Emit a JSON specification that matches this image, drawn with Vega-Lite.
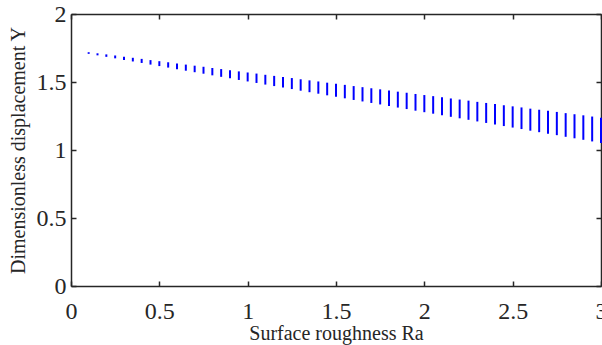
{
  "$schema": "https://vega.github.io/schema/vega-lite/v6.json",
  "width": 530,
  "height": 272,
  "autosize": {"type": "none"},
  "padding": {"left": 71, "top": 14, "right": 1, "bottom": 59},
  "background": "white",
  "config": {
    "view": {"stroke": null},
    "font": "Liberation Serif",
    "axis": {
      "domainColor": "#262626",
      "domainWidth": 1.5,
      "tickColor": "#262626",
      "tickWidth": 1.5,
      "tickSize": -5,
      "labelColor": "#262626",
      "labelFont": "Liberation Serif",
      "labelFontSize": 24,
      "titleFont": "Liberation Serif",
      "titleFontSize": 20,
      "titleFontWeight": "normal",
      "titleColor": "#262626",
      "grid": false
    }
  },
  "data": {
    "values": [
      {"Ra": 0.10, "Ytop": 1.719, "Ybot": 1.707},
      {"Ra": 0.15, "Ytop": 1.711, "Ybot": 1.696},
      {"Ra": 0.20, "Ytop": 1.703, "Ybot": 1.685},
      {"Ra": 0.25, "Ytop": 1.695, "Ybot": 1.674},
      {"Ra": 0.30, "Ytop": 1.686, "Ybot": 1.662},
      {"Ra": 0.35, "Ytop": 1.678, "Ybot": 1.651},
      {"Ra": 0.40, "Ytop": 1.670, "Ybot": 1.640},
      {"Ra": 0.45, "Ytop": 1.661, "Ybot": 1.628},
      {"Ra": 0.50, "Ytop": 1.653, "Ybot": 1.617},
      {"Ra": 0.55, "Ytop": 1.645, "Ybot": 1.606},
      {"Ra": 0.60, "Ytop": 1.636, "Ybot": 1.594},
      {"Ra": 0.65, "Ytop": 1.628, "Ybot": 1.583},
      {"Ra": 0.70, "Ytop": 1.620, "Ybot": 1.572},
      {"Ra": 0.75, "Ytop": 1.612, "Ybot": 1.561},
      {"Ra": 0.80, "Ytop": 1.603, "Ybot": 1.549},
      {"Ra": 0.85, "Ytop": 1.595, "Ybot": 1.538},
      {"Ra": 0.90, "Ytop": 1.587, "Ybot": 1.527},
      {"Ra": 0.95, "Ytop": 1.578, "Ybot": 1.515},
      {"Ra": 1.00, "Ytop": 1.570, "Ybot": 1.504},
      {"Ra": 1.05, "Ytop": 1.562, "Ybot": 1.493},
      {"Ra": 1.10, "Ytop": 1.553, "Ybot": 1.481},
      {"Ra": 1.15, "Ytop": 1.545, "Ybot": 1.470},
      {"Ra": 1.20, "Ytop": 1.537, "Ybot": 1.459},
      {"Ra": 1.25, "Ytop": 1.529, "Ybot": 1.448},
      {"Ra": 1.30, "Ytop": 1.520, "Ybot": 1.436},
      {"Ra": 1.35, "Ytop": 1.512, "Ybot": 1.425},
      {"Ra": 1.40, "Ytop": 1.504, "Ybot": 1.414},
      {"Ra": 1.45, "Ytop": 1.495, "Ybot": 1.402},
      {"Ra": 1.50, "Ytop": 1.487, "Ybot": 1.391},
      {"Ra": 1.55, "Ytop": 1.479, "Ybot": 1.380},
      {"Ra": 1.60, "Ytop": 1.470, "Ybot": 1.368},
      {"Ra": 1.65, "Ytop": 1.462, "Ybot": 1.357},
      {"Ra": 1.70, "Ytop": 1.454, "Ybot": 1.346},
      {"Ra": 1.75, "Ytop": 1.446, "Ybot": 1.335},
      {"Ra": 1.80, "Ytop": 1.437, "Ybot": 1.323},
      {"Ra": 1.85, "Ytop": 1.429, "Ybot": 1.312},
      {"Ra": 1.90, "Ytop": 1.421, "Ybot": 1.301},
      {"Ra": 1.95, "Ytop": 1.412, "Ybot": 1.289},
      {"Ra": 2.00, "Ytop": 1.404, "Ybot": 1.278},
      {"Ra": 2.05, "Ytop": 1.396, "Ybot": 1.267},
      {"Ra": 2.10, "Ytop": 1.387, "Ybot": 1.255},
      {"Ra": 2.15, "Ytop": 1.379, "Ybot": 1.244},
      {"Ra": 2.20, "Ytop": 1.371, "Ybot": 1.233},
      {"Ra": 2.25, "Ytop": 1.363, "Ybot": 1.222},
      {"Ra": 2.30, "Ytop": 1.354, "Ybot": 1.210},
      {"Ra": 2.35, "Ytop": 1.346, "Ybot": 1.199},
      {"Ra": 2.40, "Ytop": 1.338, "Ybot": 1.188},
      {"Ra": 2.45, "Ytop": 1.329, "Ybot": 1.176},
      {"Ra": 2.50, "Ytop": 1.321, "Ybot": 1.165},
      {"Ra": 2.55, "Ytop": 1.313, "Ybot": 1.154},
      {"Ra": 2.60, "Ytop": 1.304, "Ybot": 1.142},
      {"Ra": 2.65, "Ytop": 1.296, "Ybot": 1.131},
      {"Ra": 2.70, "Ytop": 1.288, "Ybot": 1.120},
      {"Ra": 2.75, "Ytop": 1.280, "Ybot": 1.109},
      {"Ra": 2.80, "Ytop": 1.271, "Ybot": 1.097},
      {"Ra": 2.85, "Ytop": 1.263, "Ybot": 1.086},
      {"Ra": 2.90, "Ytop": 1.255, "Ybot": 1.075},
      {"Ra": 2.95, "Ytop": 1.246, "Ybot": 1.063},
      {"Ra": 3.00, "Ytop": 1.238, "Ybot": 1.052}
    ]
  },
  "layer": [
    {
      "mark": {"type": "rule", "color": "#0000ff", "strokeWidth": 2, "clip": false},
      "encoding": {
        "x": {
          "field": "Ra", "type": "quantitative",
          "scale": {"domain": [0, 3], "nice": false, "zero": false},
          "axis": {"orient": "bottom", "values": [0, 0.5, 1, 1.5, 2, 2.5, 3], "format": "~g", "labelPadding": 18, "title": "Surface roughness Ra", "titlePadding": 0, "labelFlush": false, "labelOverlap": false}
        },
        "y": {
          "field": "Ytop", "type": "quantitative",
          "scale": {"domain": [0, 2], "nice": false},
          "axis": {"orient": "left", "values": [0, 0.5, 1, 1.5, 2], "format": "~g", "labelPadding": 10, "title": "Dimensionless displacement Y", "titlePadding": 8, "labelFlush": false, "labelOverlap": false}
        },
        "y2": {"field": "Ybot"}
      }
    },
    {
      "mark": {"type": "rule", "opacity": 0},
      "encoding": {
        "x": {
          "field": "Ra", "type": "quantitative",
          "scale": {"domain": [0, 3], "nice": false, "zero": false},
          "axis": {"orient": "top", "values": [0, 0.5, 1, 1.5, 2, 2.5, 3], "labels": false, "title": null}
        },
        "y": {
          "field": "Ytop", "type": "quantitative",
          "scale": {"domain": [0, 2], "nice": false},
          "axis": {"orient": "right", "values": [0, 0.5, 1, 1.5, 2], "labels": false, "title": null}
        },
        "y2": {"field": "Ybot"}
      }
    }
  ],
  "resolve": {"axis": {"x": "independent", "y": "independent"}}
}
